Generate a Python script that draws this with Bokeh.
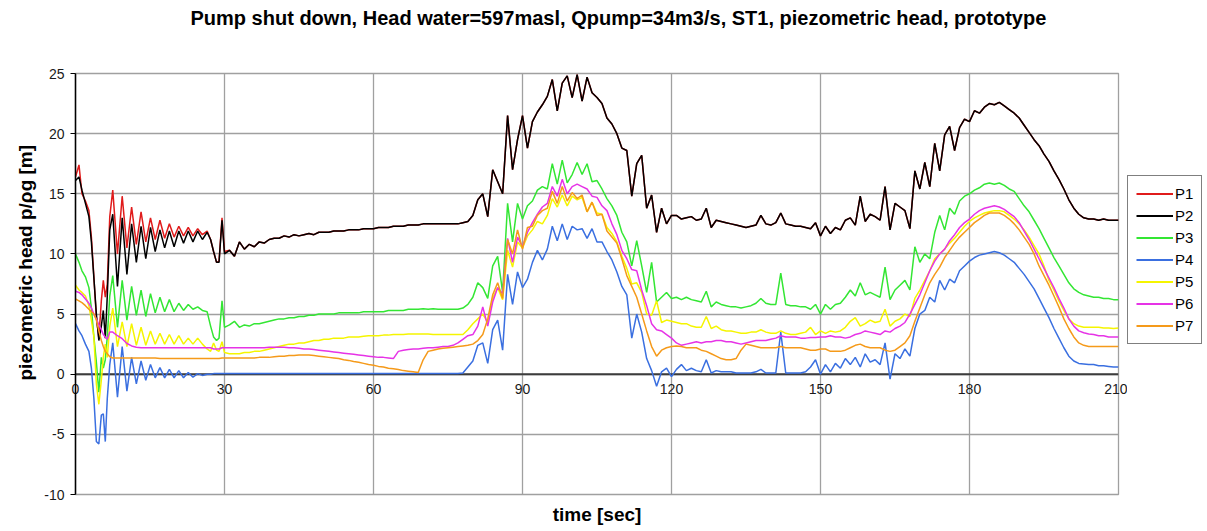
from bokeh.plotting import figure
from bokeh.layouts import row
from bokeh.models import FixedTicker, Legend, LegendItem, Title, Span
from bokeh.embed import file_html
from bokeh.resources import INLINE

# ---------------- data ----------------
series_names = ["P1", "P2", "P3", "P4", "P5", "P6", "P7"]
series_colors = ["#e01b1b", "#000000", "#33e633", "#3a6fe0", "#f5f500", "#e633e6", "#f59a1a"]

x_tick_values = [0, 30, 60, 90, 120, 150, 180, 210]
x_tick_labels = ["0", "30", "60", "90", "120", "150", "180", "210"]
y_tick_values = [-10, -5, 0, 5, 10, 15, 20, 25]
y_tick_labels = ["-10", "-5", "0", "5", "10", "15", "20", "25"]

# time samples [s]: first 30 s follow the oscillation peaks/troughs, then 1 s steps
t_head = [0, 0.7, 1.3, 2.0, 2.7, 3.2, 3.7, 4.2, 4.7, 5.2,
          5.6, 6.0, 6.4, 6.9, 7.5, 8.45, 9.4, 10.35, 11.3, 12.25,
          13.2, 14.15, 15.1, 16.05, 17.0, 17.95, 18.9, 19.85, 20.8, 21.75,
          22.7, 23.65, 24.6, 25.55, 26.5, 27.2, 27.8, 28.4, 28.9, 29.5,
          30.0]
t_tail = list(range(31, 211))

p1_head = [16.4, 17.4, 15.0, 14.4, 13.6, 11.4, 8.1, 4.7, 3.0, 6.1,
           7.8, 6.4, 7.5, 13.1, 15.3, 10.0, 14.8, 10.5, 13.9, 10.8,
           13.5, 11.0, 13.0, 11.2, 12.8, 11.3, 12.5, 11.4, 12.3, 11.5,
           12.2, 11.5, 12.1, 11.6, 11.9, 11.2, 10.2, 9.3, 9.4, 13.0,
           10.2]
p2_head = [16.1, 16.4, 15.3, 14.2, 13.1, 11.0, 8.0, 5.0, 2.8, 4.0,
           5.3, 3.0, 6.5, 12.0, 13.3, 7.3, 13.0, 8.3, 12.5, 9.3,
           12.3, 9.6, 12.2, 10.2, 12.0, 10.5, 11.9, 10.6, 11.9, 10.9,
           11.9, 11.0, 11.9, 11.2, 11.8, 11.2, 10.2, 9.3, 9.3, 12.8,
           10.0]
p3_head = [10.0, 9.3, 8.6, 8.1, 7.2, 5.5, 3.1, 1.0, -1.5, 1.4,
           0.5, 1.2, 3.1, 6.5, 8.2, 3.9, 7.8, 4.5, 7.3, 4.9,
           7.0, 4.8, 6.7, 5.1, 6.4, 5.2, 6.2, 5.2, 5.9, 5.3,
           5.8, 5.4, 5.6, 5.3, 5.2, 4.0, 3.1, 2.8, 3.0, 6.1,
           3.9]
p4_head = [4.2, 3.6, 3.2, 2.5, 1.9, 0.5, -2.0, -5.6, -5.8, -3.4,
           -3.3, -5.6, -2.0, 0.8, 2.6, -1.9, 2.3, -1.4, 1.4, -0.8,
           1.1, -0.5, 0.8, -0.3, 0.55, -0.3, 0.4, -0.3, 0.3, -0.3,
           0.15, -0.25, 0.05, -0.1, 0.0, 0.0, 0.05, 0.05, 0.05, 0.05,
           0.05]
p5_head = [7.4, 7.0, 6.8, 6.5, 5.7, 4.5, 3.1, -0.8, -2.5, -0.5,
           1.4, 2.5, 1.4, 4.0, 5.5, 2.3, 4.35, 2.3, 4.2, 2.4,
           3.9, 2.4, 3.6, 2.5, 3.4, 2.5, 3.3, 2.5, 3.2, 2.5,
           3.0, 2.5, 3.0, 2.5, 2.1, 1.9, 2.6, 2.0, 1.9, 2.7,
           1.8]
p6_head = [6.9, 6.8, 6.6, 6.25, 5.9, 5.5, 5.0, 4.6, 4.1, 3.7,
           3.3, 3.1, 2.9, 3.5, 3.5, 3.2, 2.95, 2.55, 2.35, 2.25,
           2.2, 2.2, 2.2, 2.2, 2.2, 2.2, 2.2, 2.2, 2.2, 2.2,
           2.2, 2.2, 2.2, 2.2, 2.2, 2.2, 2.1, 2.1, 2.1, 2.2,
           2.2]
p7_head = [6.25, 6.1, 5.95, 5.7, 5.4, 5.2, 5.0, 4.5, 3.6, 2.8,
           2.3, 1.9, 1.7, 1.45, 1.35, 1.35, 1.35, 1.35, 1.35, 1.35,
           1.35, 1.35, 1.35, 1.35, 1.3, 1.3, 1.3, 1.3, 1.3, 1.3,
           1.3, 1.3, 1.3, 1.3, 1.3, 1.3, 1.3, 1.3, 1.3, 1.35,
           1.35]

# t = 31 ... 210 s (P1 and P2 coincide from here on)
p12_tail = [10.3, 9.8, 11.0, 10.4, 10.8, 10.6, 11.0, 10.9, 11.2, 11.3,
            11.3, 11.5, 11.4, 11.6, 11.5, 11.6, 11.7, 11.6, 11.8, 11.8,
            11.8, 11.9, 11.9, 11.9, 12.0, 12.0, 12.0, 12.1, 12.1, 12.1,
            12.2, 12.2, 12.2, 12.3, 12.3, 12.3, 12.4, 12.4, 12.4, 12.5,
            12.5, 12.5, 12.5, 12.5, 12.5, 12.5, 12.5, 12.6, 12.7, 13.2,
            14.5, 15.0, 13.1, 17.0, 16.0, 15.0, 21.5, 17.0, 19.5, 21.5,
            18.8, 21.0, 21.8, 22.4, 23.1, 24.5, 21.9, 24.2, 24.8, 23.0,
            24.9, 22.7, 24.7, 23.4, 23.0, 22.5, 21.3, 20.8, 20.0, 18.8,
            18.6, 14.8, 17.5, 18.2, 13.8, 14.9, 11.8, 13.8, 12.5, 13.2,
            13.2, 12.9, 13.0, 13.1, 12.8, 12.9, 13.8, 12.2, 12.8, 12.7,
            12.6, 12.5, 12.4, 12.3, 12.2, 12.3, 12.4, 13.2, 12.5, 12.4,
            12.6, 13.4, 12.5, 12.4, 12.3, 12.3, 12.2, 12.1, 12.6, 11.5,
            12.3, 11.7, 12.2, 12.0, 12.8, 13.0, 12.4, 14.8, 12.7, 13.3,
            13.1, 12.8, 15.6, 12.0, 14.2, 13.9, 13.6, 12.1, 16.9, 15.4,
            17.6, 15.6, 19.2, 16.9, 19.9, 20.6, 18.6, 20.5, 21.2, 21.0,
            21.9, 21.7, 22.2, 22.5, 22.4, 22.6, 22.3, 22.0, 21.7, 21.3,
            20.7, 20.1, 19.5, 19.0, 18.3, 17.7, 16.9, 16.2, 15.4, 14.5,
            13.8, 13.3, 13.0, 12.9, 12.9, 12.8, 12.9, 12.8, 12.8, 12.8]
p3_tail = [4.1, 4.4, 3.9, 4.1, 4.0, 4.2, 4.2, 4.3, 4.4, 4.5,
           4.6, 4.6, 4.7, 4.7, 4.8, 4.8, 4.9, 4.9, 5.0, 5.0,
           5.0, 5.0, 5.1, 5.1, 5.1, 5.1, 5.1, 5.2, 5.2, 5.2,
           5.2, 5.2, 5.3, 5.3, 5.3, 5.3, 5.4, 5.4, 5.4, 5.45,
           5.4, 5.45, 5.4, 5.4, 5.4, 5.4, 5.4, 5.5, 5.8, 6.4,
           7.6, 7.2, 6.3, 9.0, 9.8, 6.8, 14.2, 11.0, 14.2, 12.9,
           14.0, 14.4, 15.3, 15.6, 15.4, 17.5, 15.8, 17.8, 15.9, 16.6,
           17.6, 16.6, 17.5, 16.0, 16.1, 15.4, 14.6, 14.0, 13.2, 11.8,
           11.0, 9.0, 11.1, 9.0, 6.8, 9.3, 6.0, 6.4, 6.8, 6.3,
           6.4, 6.2, 6.4, 6.2, 6.1, 6.0, 6.9, 5.6, 6.0, 5.8,
           5.7, 5.6, 5.6, 5.5, 5.6, 5.7, 5.9, 6.3, 5.9, 5.8,
           5.8, 8.4, 5.8, 5.7, 5.7, 5.6, 5.6, 5.4, 5.8, 5.0,
           5.8, 5.4, 5.8, 5.9, 6.4, 7.0, 6.5, 7.6, 6.6, 6.8,
           6.6, 6.4, 8.9, 6.2, 7.0, 7.4, 7.8, 7.0, 10.6, 9.3,
           10.0, 9.6, 11.8, 13.2, 12.0, 13.8, 13.3, 14.4, 14.8, 15.0,
           15.3, 15.5, 15.8, 15.9, 15.8, 15.9, 15.7, 15.4, 15.2, 14.6,
           14.0, 13.5, 12.8, 12.1, 11.3, 10.5, 9.7, 9.0, 8.3, 7.6,
           7.1, 6.8, 6.6, 6.5, 6.4, 6.4, 6.3, 6.3, 6.2, 6.2]
p4_tail = [0.05, 0.05, 0.05, 0.05, 0.05, 0.05, 0.05, 0.05, 0.05, 0.05,
           0.05, 0.05, 0.05, 0.05, 0.05, 0.05, 0.05, 0.05, 0.05, 0.05,
           0.05, 0.05, 0.05, 0.05, 0.05, 0.05, 0.05, 0.05, 0.05, 0.05,
           0.05, 0.05, 0.05, 0.05, 0.05, 0.05, 0.05, 0.05, 0.05, 0.05,
           0.05, 0.05, 0.05, 0.05, 0.05, 0.05, 0.05, 0.1, 0.6, 1.1,
           2.4, 2.6, 0.9, 3.7, 4.5, 2.0, 8.3, 5.8, 8.5, 7.2,
           7.9, 9.3, 10.3, 9.5, 10.4, 12.3, 11.1, 12.5, 11.2, 12.3,
           12.0, 12.1, 11.3, 12.1, 11.0, 11.0, 10.2, 9.5, 8.5, 7.3,
           6.6, 3.0, 5.0, 3.5, 1.3, 0.3, -1.0, 0.2, 0.5, -0.2,
           0.4, 0.8, 0.3, 0.5, 0.3, 0.2, 1.2, 0.1, 0.3, 0.2,
           0.2, 0.2, 0.1, 0.1, 0.1, 0.1, 0.2, 0.4, 0.1, 0.1,
           0.1, 3.5, 0.1, 0.1, 0.1, 0.1, 0.2, 0.6, 1.2, 0.0,
           0.8, 0.2, 0.9, 0.5, 1.3, 0.8, 1.4, 0.6, 1.7, 1.0,
           1.2, 0.8, 2.6, -0.4, 1.7, 1.3, 2.1, 1.5, 3.8, 5.0,
           5.3, 6.4, 6.0, 7.8, 7.0, 7.9, 7.6, 8.6, 9.0, 9.4,
           9.7, 9.9, 10.0, 10.1, 10.2, 10.1, 9.9, 9.6, 9.3, 8.8,
           8.3, 7.7, 7.1, 6.3, 5.5, 4.7, 3.8, 3.0, 2.2, 1.5,
           1.1, 0.9, 0.85, 0.8, 0.8, 0.7, 0.7, 0.65, 0.6, 0.6]
p5_tail = [1.7, 1.7, 1.7, 1.8, 1.8, 1.9, 1.9, 2.0, 2.1, 2.2,
           2.3, 2.4, 2.5, 2.5, 2.6, 2.6, 2.7, 2.8, 2.8, 2.9,
           2.9, 3.0, 3.0, 3.0, 3.1, 3.1, 3.1, 3.15, 3.2, 3.2,
           3.2, 3.25, 3.25, 3.3, 3.3, 3.3, 3.35, 3.35, 3.35, 3.35,
           3.35, 3.3, 3.3, 3.3, 3.3, 3.3, 3.3, 3.3, 3.7, 4.2,
           4.6, 5.0, 4.3, 6.3, 7.2, 6.2, 10.3, 8.9, 11.0, 10.5,
           11.5, 12.0, 12.7, 12.5, 13.2, 14.6, 13.9, 14.9, 14.0, 14.8,
           14.5, 14.7, 13.5, 14.3, 13.4, 13.3, 12.2, 11.7, 11.0, 9.8,
           8.8, 7.5, 7.6, 6.8, 5.0, 4.9, 6.1, 4.3, 4.5, 4.4,
           4.3, 4.2, 4.2, 4.0, 3.9, 3.9, 4.8, 3.8, 4.0, 3.7,
           3.6, 3.6, 3.5, 3.4, 3.4, 3.5, 3.5, 3.7, 3.5, 3.4,
           3.4, 3.6, 3.4, 3.3, 3.3, 3.4, 3.5, 3.9, 3.3, 3.6,
           3.4, 3.6, 3.5, 3.6, 3.9, 4.4, 4.7, 4.0, 4.2, 4.5,
           4.3, 4.4, 5.4, 4.0, 4.4, 4.6, 5.0, 4.8, 6.3, 7.0,
           7.8, 8.6, 9.6, 10.0, 10.4, 10.9, 11.3, 11.8, 12.3, 12.7,
           13.0, 13.2, 13.4, 13.5, 13.6, 13.6, 13.5, 13.2, 12.9, 12.5,
           12.0, 11.4, 10.7, 10.0, 9.0, 7.8, 7.0, 6.1, 5.3, 4.6,
           4.2, 4.0, 3.9, 3.9, 3.9, 3.9, 3.85, 3.85, 3.8, 3.85]
p6_tail = [2.2, 2.2, 2.2, 2.2, 2.2, 2.2, 2.2, 2.2, 2.25, 2.25,
           2.25, 2.25, 2.2, 2.2, 2.15, 2.1, 2.1, 2.05, 2.0, 1.95,
           1.9, 1.85, 1.8, 1.75, 1.7, 1.65, 1.6, 1.55, 1.5, 1.45,
           1.4, 1.4, 1.35, 1.3, 1.9, 2.0, 2.05, 2.1, 2.1, 2.15,
           2.2, 2.2, 2.25, 2.3, 2.3, 2.4, 2.6, 2.9, 3.2, 3.3,
           4.0, 5.6, 4.0, 6.0, 7.2, 6.7, 11.3, 9.3, 11.4, 10.6,
           11.8, 12.6, 13.3, 13.9, 14.2, 15.6, 14.8, 16.2, 15.0, 15.6,
           15.8, 15.6, 15.4, 14.8, 14.7, 14.0, 13.6, 12.5, 11.6, 10.3,
           9.6, 8.7, 8.6, 7.0, 5.7, 4.2, 3.7, 3.6, 3.3, 3.0,
           2.6, 2.4, 2.5, 2.6, 2.7, 2.6, 2.7, 2.7, 2.8, 2.8,
           2.7, 2.7, 2.6, 2.5, 2.6, 2.7, 2.8, 2.8, 2.8, 2.9,
           3.0, 3.2, 3.1, 3.1, 3.1, 3.0, 3.0, 3.05, 3.05, 3.1,
           3.1, 3.2, 3.1, 3.1, 3.0, 3.1, 3.3, 3.4, 3.6, 3.5,
           3.4, 3.3, 3.6, 3.5, 3.8, 4.0, 4.3, 5.0, 5.8, 6.6,
           7.6, 8.6, 9.4, 10.0, 10.4, 11.1, 11.6, 12.2, 12.6, 12.9,
           13.3, 13.6, 13.8, 13.9, 14.0, 13.9, 13.7, 13.4, 13.1, 12.6,
           11.9, 11.2, 10.4, 9.6, 8.8, 8.0, 7.2, 6.3, 5.5, 4.6,
           4.0, 3.6, 3.45, 3.35, 3.3, 3.2, 3.2, 3.1, 3.1, 3.1]
p7_tail = [1.35, 1.35, 1.35, 1.35, 1.35, 1.35, 1.4, 1.4, 1.4, 1.45,
           1.5, 1.5, 1.55, 1.55, 1.6, 1.6, 1.6, 1.55, 1.5, 1.45,
           1.4, 1.35, 1.3, 1.2, 1.15, 1.05, 1.0, 0.9, 0.8, 0.75,
           0.65, 0.6, 0.5, 0.45, 0.4, 0.3, 0.25, 0.2, 0.15, 1.2,
           1.9, 2.0, 2.1, 2.15, 2.2, 2.25, 2.3, 2.35, 2.4, 2.5,
           2.8, 3.3, 4.6, 6.6, 7.6, 6.3, 11.2, 10.0, 12.0, 10.4,
           12.2, 12.3, 13.2, 13.6, 13.8, 15.2, 14.2, 15.6, 14.4, 15.1,
           14.6, 14.9, 13.5, 14.3, 13.2, 13.3, 11.9, 11.4, 10.9, 9.6,
           8.2, 7.3, 6.4, 5.0, 3.6, 2.3, 1.5, 2.0, 2.2, 2.3,
           2.35, 2.3, 2.2, 2.2, 2.2, 2.0, 1.9, 1.7, 1.5, 1.3,
           1.2, 1.2, 1.3, 2.0, 2.5, 2.4, 2.3, 2.2, 2.2, 2.2,
           2.2, 2.3, 2.2, 2.2, 2.2, 2.2, 2.1, 2.0, 2.0, 2.1,
           2.1, 1.9, 1.9, 1.9, 2.0, 2.2, 2.4, 2.5, 2.3, 2.2,
           2.2, 2.2, 2.0, 1.9, 2.0, 2.3, 2.6, 3.2, 4.4, 5.5,
           6.6, 7.6, 8.3, 8.9, 9.7, 10.3, 10.9, 11.4, 11.8, 12.2,
           12.6, 12.9, 13.2, 13.4, 13.4, 13.4, 13.2, 12.9, 12.5, 12.0,
           11.4, 10.8, 10.0, 9.0, 8.2, 7.4, 6.5, 5.6, 4.6, 3.8,
           3.1, 2.6, 2.4, 2.3, 2.3, 2.3, 2.3, 2.3, 2.3, 2.3]

time = t_head + t_tail
P1 = p1_head + p12_tail
P2 = p2_head + p12_tail
P3 = p3_head + p3_tail
P4 = p4_head + p4_tail
P5 = p5_head + p5_tail
P6 = p6_head + p6_tail
P7 = p7_head + p7_tail
series_values = [P1, P2, P3, P4, P5, P6, P7]

# ---------------- main figure ----------------
FONT = "Liberation Sans"

p = figure(width=1127, height=531, x_range=(0, 210), y_range=(-10, 25),
           output_backend="svg", toolbar_location=None,
           min_border_left=75, min_border_right=9,
           min_border_top=73, min_border_bottom=37)
p.background_fill_color = "white"
p.border_fill_color = "white"
p.outline_line_color = "#a0a0a0"
p.outline_line_width = 1.3

p.title.text = "Pump shut down, Head water=597masl, Qpump=34m3/s, ST1, piezometric head, prototype"
p.title.text_font = FONT
p.title.text_font_size = "20px"
p.title.text_font_style = "bold"
p.title.text_color = "#000000"
p.title.align = "left"
p.title.offset = 115
p.title.standoff = 6
# blank spacer between the title and the plot area
p.add_layout(Title(text=" ", text_font_size="2px", standoff=38), "above")

# grids
p.xgrid.ticker = FixedTicker(ticks=x_tick_values)
p.ygrid.ticker = FixedTicker(ticks=y_tick_values)
p.grid.grid_line_color = "#a0a0a0"
p.grid.grid_line_width = 1.3
p.grid.grid_line_alpha = 1.0

# y axis
p.yaxis.ticker = FixedTicker(ticks=y_tick_values)
p.yaxis.major_label_overrides = {v: s for v, s in zip(y_tick_values, y_tick_labels)}
p.yaxis.axis_line_color = "black"
p.yaxis.axis_line_width = 1.5
p.yaxis.major_tick_line_color = "black"
p.yaxis.major_tick_out = 5
p.yaxis.major_tick_in = 0
p.yaxis.minor_tick_line_color = None
p.yaxis.major_label_standoff = 6
p.yaxis.major_label_text_font = FONT
p.yaxis.major_label_text_font_size = "14px"
p.yaxis.major_label_text_color = "#1a1a1a"
p.add_layout(Title(text="piezometric head p/\u03c1g [m]", align="left", offset=114,
                   standoff=11, text_font=FONT, text_font_size="19px",
                   text_font_style="bold", text_color="#000000"), "left")

# x axis: tick labels pulled up to sit just under the y = 0 line
p.xaxis.ticker = FixedTicker(ticks=x_tick_values)
p.xaxis.major_label_overrides = {v: s for v, s in zip(x_tick_values, x_tick_labels)}
p.xaxis.axis_line_color = None
p.xaxis.major_tick_line_color = None
p.xaxis.major_tick_out = 0
p.xaxis.major_tick_in = 0
p.xaxis.minor_tick_line_color = None
p.xaxis.major_label_standoff = -111
p.xaxis.major_label_text_font = FONT
p.xaxis.major_label_text_font_size = "14px"
p.xaxis.major_label_text_color = "#1a1a1a"
p.add_layout(Title(text="time [sec]", align="center", standoff=14,
                   text_font=FONT, text_font_size="19px",
                   text_font_style="bold", text_color="#000000"), "below")

zero_line = Span(location=0, dimension="width", line_color="#3c3c3c",
                 line_width=2, level="underlay")
p.add_layout(zero_line)

for color, vals in zip(series_colors, series_values):
    p.line(time, vals, line_color=color, line_width=1.5)

# ---------------- legend panel (same series, ranges chosen so only the key shows) ----------------
pl = figure(width=80, height=531, x_range=(0, 210), y_range=(1000, 1001),
            output_backend="svg", toolbar_location=None, title_location=None,
            x_axis_location=None, y_axis_location=None, min_border=0)
pl.grid.visible = False
pl.outline_line_color = None
pl.background_fill_color = "white"
pl.border_fill_color = "white"
key_renderers = [pl.line(time, vals, line_color=c, line_width=2)
                 for c, vals in zip(series_colors, series_values)]

legend = Legend(items=[LegendItem(label=n, renderers=[r]) for n, r in zip(series_names, key_renderers)],
                location=(0, 150))
legend.border_line_color = "black"
legend.border_line_width = 1
legend.background_fill_color = "white"
legend.background_fill_alpha = 1.0
legend.padding = 8
legend.spacing = 3
legend.margin = 0
legend.glyph_width = 37
legend.glyph_height = 19
legend.label_width = 18
legend.label_height = 19
legend.label_standoff = 2
legend.label_text_font = FONT
legend.label_text_font_size = "15px"
legend.label_text_color = "#000000"
pl.add_layout(legend)

layout = row(p, pl)
open("out.html", "w").write(file_html(layout, INLINE))
